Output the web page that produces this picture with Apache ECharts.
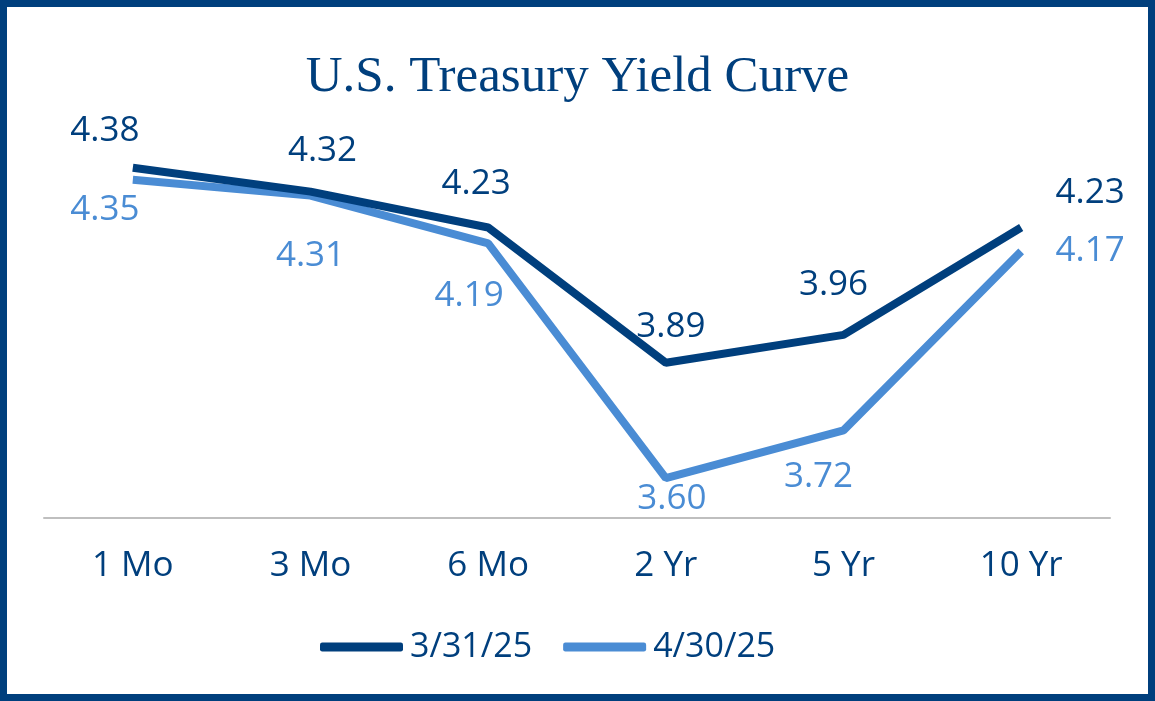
<!DOCTYPE html>
<html>
<head>
<meta charset="utf-8">
<script src="https://cdn.jsdelivr.net/npm/echarts@6/dist/echarts.min.js"></script>
<style>
html, body { margin: 0; padding: 0; background: #fff; }
#chart { width: 1155px; height: 701px; }
</style>
</head>
<body>
<div id="chart"></div>
<script>
// 数据
var categories = ['1 Mo', '3 Mo', '6 Mo', '2 Yr', '5 Yr', '10 Yr'];
var march = [4.38, 4.32, 4.23, 3.89, 3.96, 4.23];
var april = [4.35, 4.31, 4.19, 3.60, 3.72, 4.17];
var seriesNames = ['3/31/25', '4/30/25'];

var darkBlue = '#003f7d';
var lightBlue = '#4a8cd4';

// 每个标签相对点的偏移
var marchOffsets = [[-28, -37], [12, -41], [-12, -43], [5, -36], [-10, -50], [69, -34]];
var aprilOffsets = [[-28, 30], [0, 60], [-19, 53], [6, 21], [-25, 47], [69, 0]];

function withLabels(values, offsets, color) {
	return values.map(function (v, i) {
		return {
			value: v,
			label: { offset: offsets[i], color: color }
		};
	});
}

var chart = echarts.init(document.getElementById('chart'));
var labelFont = { fontFamily: 'Open Sans', fontSize: 35 };

chart.setOption({
	animation: false,
	title: {
		text: 'U.S. Treasury Yield Curve',
		left: 'center',
		top: 47,
		textStyle: {
			fontFamily: 'Liberation Serif',
			fontWeight: 'normal',
			fontSize: 51,
			color: darkBlue
		}
	},
	graphic: [{
		type: 'rect',
		shape: { x: 3.5, y: 3.5, width: 1148, height: 694 },
		style: { fill: 'none', stroke: darkBlue, lineWidth: 7 },
		z: 100
	}],
	legend: {
		bottom: 32,
		left: 315,
		itemWidth: 83,
		itemHeight: 9,
		itemGap: 31,
		icon: 'roundRect',
		textStyle: {
			fontFamily: 'Open Sans',
			fontSize: 34,
			color: darkBlue,
			padding: [0, 0, 0, 2]
		},
		data: seriesNames
	},
	grid: { left: 44, right: 45, top: 120, bottom: 183 },
	xAxis: {
		type: 'category',
		data: categories,
		boundaryGap: true,
		axisTick: { show: false },
		axisLine: { lineStyle: { color: '#bfbfbf', width: 2 } },
		axisLabel: {
			margin: 31,
			fontFamily: 'Open Sans',
			fontSize: 35,
			color: darkBlue
		}
	},
	yAxis: {
		type: 'value',
		min: 3.5,
		max: 4.5,
		interval: 0.1,
		show: false,
		splitLine: { show: false }
	},
	series: [{
		name: seriesNames[0],
		type: 'line',
		symbol: 'circle',
		symbolSize: 0,
		color: darkBlue,
		lineStyle: { width: 8, color: darkBlue },
		label: {
			show: true,
			position: 'inside',
			fontFamily: labelFont.fontFamily,
			fontSize: labelFont.fontSize,
			formatter: function (p) { return p.value.toFixed(2); }
		},
		z: 3,
		data: withLabels(march, marchOffsets, darkBlue)
	}, {
		name: seriesNames[1],
		type: 'line',
		symbol: 'circle',
		symbolSize: 0,
		color: lightBlue,
		lineStyle: { width: 8, color: lightBlue },
		label: {
			show: true,
			position: 'inside',
			fontFamily: labelFont.fontFamily,
			fontSize: labelFont.fontSize,
			formatter: function (p) { return p.value.toFixed(2); }
		},
		z: 2,
		data: withLabels(april, aprilOffsets, lightBlue)
	}]
});
</script>
</body>
</html>
